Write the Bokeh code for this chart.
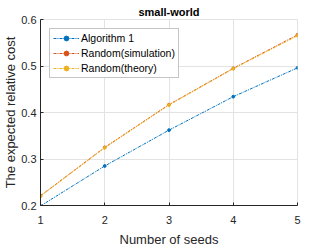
from bokeh.plotting import figure
from bokeh.models import Legend, LegendItem, FixedTicker, Range1d
from bokeh.embed import file_html
from bokeh.resources import INLINE

seeds = [1, 2, 3, 4, 5]
alg1 = [0.199, 0.285, 0.362, 0.434, 0.496]
rand_sim = [0.221, 0.325, 0.417, 0.495, 0.567]
rand_theory = [0.220, 0.324, 0.416, 0.494, 0.565]
names = ["Algorithm 1", "Random(simulation)", "Random(theory)"]
colors = ["#0072BD", "#D95319", "#EDB120"]
x_ticks = [1, 2, 3, 4, 5]
y_ticks = [0.2, 0.3, 0.4, 0.5, 0.6]

FONT = "Liberation Sans"
AX = "#262626"
GRID = "#e3e3e3"

p = figure(width=316, height=241, output_backend="svg", toolbar_location=None,
           x_range=Range1d(1, 5), y_range=Range1d(0.2, 0.6),
           frame_width=257, frame_height=186,
           min_border_left=35, min_border_right=24, min_border_top=19, min_border_bottom=39)

p.title.text = "small-world"
p.title.align = "center"
p.title.text_font = FONT
p.title.text_font_size = "11px"
p.title.text_font_style = "bold"
p.title.text_color = "#000000"
p.title.offset = 0
p.title.standoff = 3

items = []
for ys, nm, c in zip([alg1, rand_sim, rand_theory], names, colors):
    r1 = p.line(seeds, ys, line_color=c, line_width=1, line_dash="3 1 1 1")
    r2 = p.scatter(seeds, ys, size=2.8, fill_color=c, line_color=c)
    items.append(LegendItem(label=nm, renderers=[r1, r2]))

leg = Legend(items=items, location="top_left")
leg.label_text_font = FONT
leg.label_text_font_size = "10.5px"
leg.label_text_color = "#000000"
leg.label_height = 12
leg.glyph_height = 12
leg.glyph_width = 26
leg.spacing = 3
leg.padding = 3
leg.margin = 9
leg.label_standoff = 2
leg.border_line_color = "#8c8c8c"
leg.border_line_width = 1
leg.background_fill_alpha = 1
p.add_layout(leg)

p.xaxis.ticker = FixedTicker(ticks=x_ticks)
p.yaxis.ticker = FixedTicker(ticks=y_ticks)
p.yaxis.major_label_overrides = {v: f"{v:.1f}" for v in y_ticks}
p.xaxis.axis_label = "Number of seeds"
p.yaxis.axis_label = "The expected relative cost"
for ax in (p.xaxis, p.yaxis):
    ax.axis_label_text_font = FONT
    ax.axis_label_text_font_size = "13px"
    ax.axis_label_text_font_style = "normal"
    ax.axis_label_text_color = AX
    ax.major_label_text_font = FONT
    ax.major_label_text_font_size = "11px"
    ax.major_label_text_color = AX
    ax.axis_line_color = AX
    ax.major_tick_line_color = AX
    ax.major_tick_in = 3
    ax.major_tick_out = 0
    ax.minor_tick_line_color = None
p.xaxis.major_label_standoff = 10
p.xaxis.axis_label_standoff = 5
p.yaxis.major_label_standoff = 4
p.yaxis.axis_label_standoff = 0

p.grid.grid_line_color = GRID
p.outline_line_color = GRID
p.outline_line_alpha = 1
p.background_fill_color = "#ffffff"
p.border_fill_color = "#ffffff"

open("out.html", "w").write(file_html(p, INLINE))
